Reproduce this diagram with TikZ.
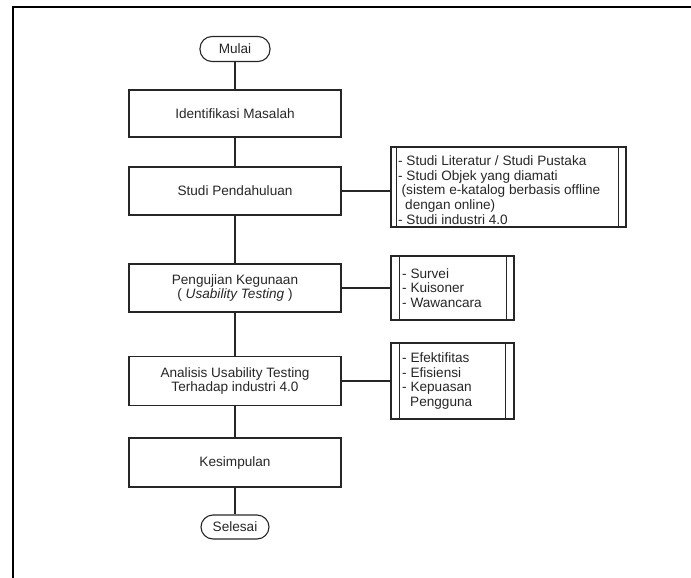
\documentclass[tikz,border=0pt]{standalone}
\usepackage{fontspec}
\setmainfont{Liberation Sans}
\begin{document}
\begin{tikzpicture}[x=1pt,y=-1pt,
  every node/.style={font=\fontsize{13.6}{14.7}\selectfont, text=black!85},
  mainbox/.style={draw=black!85, line width=1.1pt, minimum width=212pt, minimum height=48pt, align=center, inner sep=0pt},
  termbox/.style={draw=black!85, line width=1.1pt, rounded corners=12pt, minimum width=70pt, minimum height=25pt, inner sep=0pt},
  subbox/.style={draw=black!85, line width=1.1pt, inner sep=0pt},
  subtext/.style={anchor=west, align=left, inner sep=0pt},
  conn/.style={draw=black!85, line width=1.1pt},
  framepen/.style={draw=black, line width=2pt}
]
\useasboundingbox (0,0) rectangle (691,578);
% frame (top and left visible)
\coordinate (ftr) at (691,7);
\coordinate (ftl) at (13,7);
\coordinate (fbl) at (13,578);
\draw[framepen] (ftr) -- (ftl) -- (fbl);

% main flow
\node[termbox] (mulai) at (235,49) {Mulai};
\node[mainbox, minimum height=47pt] (ident) at (235,113.5) {Identifikasi Masalah};
\node[mainbox] (studi) at (235,191) {Studi Pendahuluan};
\node[mainbox] (uji) at (235,288) {Pengujian Kegunaan\\( \textit{Usability Testing} )};
\node[mainbox, minimum height=49pt] (anal) at (235,381) {Analisis Usability Testing\\Terhadap industri 4.0};
\node[mainbox, minimum height=49pt] (kes) at (235,462.5) {Kesimpulan};
\node[termbox, minimum width=68pt, minimum height=24pt] (selesai) at (235,527) {Selesai};

\draw[conn] (mulai) -- (ident);
\draw[conn] (ident) -- (studi);
\draw[conn] (studi) -- (uji);
\draw[conn] (uji) -- (anal);
\draw[conn] (anal) -- (kes);
\draw[conn] (kes) -- (selesai);

% side boxes
\node[subbox, minimum width=235pt, minimum height=80pt] (b1) at (508.5,187) {};
\draw[conn] ([xshift=6pt]b1.north west) -- ([xshift=6pt]b1.south west);
\draw[conn] ([xshift=-8pt]b1.north east) -- ([xshift=-8pt]b1.south east);
\node[subtext] (t1) at (398,190) {- Studi Literatur / Studi Pustaka\\- Studi Objek yang diamati\\\hspace{3.5pt}(sistem e-katalog berbasis offline\\\hspace{7pt}dengan online)\\- Studi industri 4.0};

\node[subbox, minimum width=123pt, minimum height=64pt] (b2) at (452.5,288) {};
\draw[conn] ([xshift=9pt]b2.north west) -- ([xshift=9pt]b2.south west);
\draw[conn] ([xshift=-8pt]b2.north east) -- ([xshift=-8pt]b2.south east);
\node[subtext] (t2) at (402,288) {- Survei\\- Kuisoner\\- Wawancara};

\node[subbox, minimum width=123pt, minimum height=76pt] (b3) at (452.5,381) {};
\draw[conn] ([xshift=9pt]b3.north west) -- ([xshift=9pt]b3.south west);
\draw[conn] ([xshift=-9pt]b3.north east) -- ([xshift=-9pt]b3.south east);
\node[subtext] (t3) at (402,381) {- Efektifitas\\- Efisiensi\\- Kepuasan\\\hspace{8pt}Pengguna};

\draw[conn] (studi.east) -- (studi.east -| b1.west);
\draw[conn] (uji.east) -- (uji.east -| b2.west);
\draw[conn] (anal.east) -- (anal.east -| b3.west);
\end{tikzpicture}
\end{document}
